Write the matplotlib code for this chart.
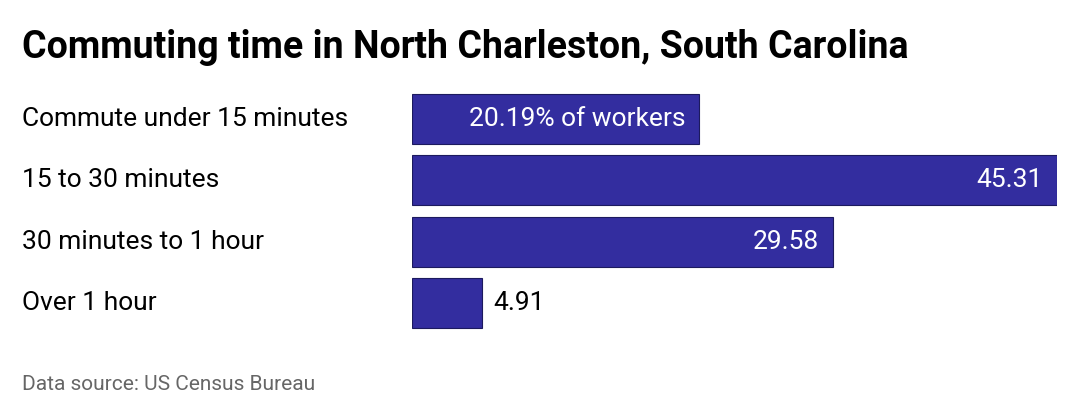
import matplotlib
matplotlib.use("Agg")
import matplotlib.pyplot as plt

categories = ["Commute under 15 minutes", "15 to 30 minutes", "30 minutes to 1 hour", "Over 1 hour"]
values = [20.19, 45.31, 29.58, 4.91]
labels = ["20.19% of workers", "45.31", "29.58", "4.91"]

plt.rcParams['font.family'] = ['Roboto', 'DejaVu Sans']
fig = plt.figure(figsize=(10.8, 4.2), dpi=100)
ax = fig.add_axes([412/1080, 1-333.5/420, 645/1080, 245/420])
y = list(range(len(values)))
ax.barh(y, values, height=0.82, color="#332d9f", edgecolor="#1c1a5e", linewidth=0.8)
ax.set_xlim(0, max(values))
ax.set_ylim(len(values)-0.5, -0.5)
ax.axis("off")
for i, (v, lab) in enumerate(zip(values, labels)):
    if v > 10:
        ax.annotate(lab, (v, i), xytext=(-10, 0), textcoords="offset points",
                    ha="right", va="center", color="white", fontsize=19)
    else:
        ax.annotate(lab, (v, i), xytext=(8, 0), textcoords="offset points",
                    ha="left", va="center", color="black", fontsize=19)
    ax.annotate(categories[i], (0, i), xycoords=("figure fraction", "data"),
                xytext=(22/1080*fig.get_figwidth()*72, 0), textcoords="offset points",
                ha="left", va="center", fontsize=19, color="black")
fig.text(22/1080, 1-47/420, "Commuting time in North Charleston, South Carolina",
         fontsize=27, fontweight="bold", va="center", ha="left")
fig.text(22/1080, 1-385/420, "Data source: US Census Bureau", fontsize=15,
         color="#666666", va="center", ha="left")
fig.savefig("out.png", dpi=100)
